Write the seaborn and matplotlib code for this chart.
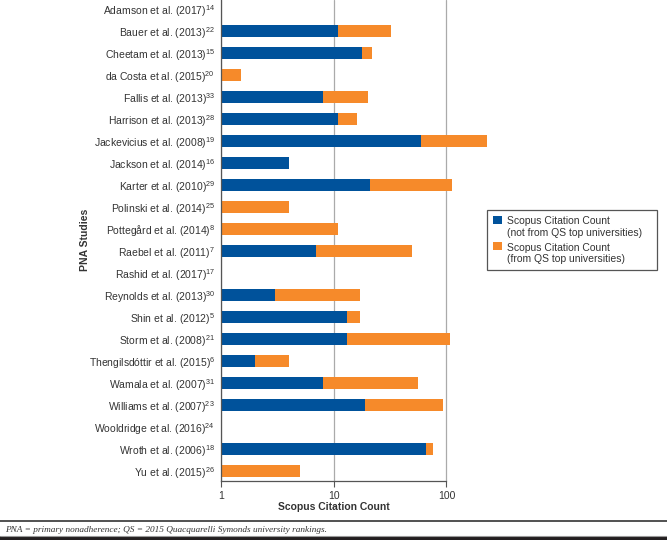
import matplotlib.pyplot as plt
import seaborn as sns
import pandas as pd
from matplotlib.lines import Line2D
from matplotlib.patches import Patch, Rectangle
from matplotlib.legend_handler import HandlerPatch

# Data
studies = ['Adamson et al. (2017)', 'Bauer et al. (2013)', 'Cheetam et al. (2013)',
           'da Costa et al. (2015)', 'Fallis et al. (2013)', 'Harrison et al. (2013)',
           'Jackevicius et al. (2008)', 'Jackson et al. (2014)', 'Karter et al. (2010)',
           'Polinski et al. (2014)', 'Pottegård et al. (2014)', 'Raebel et al. (2011)',
           'Rashid et al. (2017)', 'Reynolds et al. (2013)', 'Shin et al. (2012)',
           'Storm et al. (2008)', 'Thengilsdóttir et al. (2015)', 'Wamala et al. (2007)',
           'Williams et al. (2007)', 'Wooldridge et al. (2016)', 'Wroth et al. (2006)',
           'Yu et al. (2015)']
refs = ['14', '22', '15', '20', '33', '28', '19', '16', '29', '25', '8', '7',
        '17', '30', '5', '21', '6', '31', '23', '24', '18', '26']
not_qs = [0, 11, 18, 0, 8, 11, 59, 4, 21, 0, 0, 7, 0, 3, 13, 13, 2, 8, 19, 0, 66, 0]
from_qs = [0, 21, 4, 1.5, 12, 5, 170, 0, 92, 4, 11, 43, 0, 14, 4, 95, 2, 48, 74, 0, 10, 5]

blue = '#00529b'
orange = '#f68a2a'
text_col = '#333333'

df = pd.DataFrame({'study': studies, 'not_qs': not_qs, 'from_qs': from_qs})
df['total'] = df['not_qs'] + df['from_qs']

sns.set_style('white')
plt.rcParams['font.family'] = ['Liberation Sans', 'DejaVu Sans']
plt.rcParams['mathtext.fontset'] = 'custom'
plt.rcParams['mathtext.rm'] = 'Liberation Sans'
plt.rcParams['mathtext.default'] = 'regular'

fig = plt.figure(figsize=(6.67, 5.4), dpi=100)
ax = fig.add_axes([221 / 667, 1 - 481 / 540, 270 / 667, 481 / 540])

sns.barplot(data=df, x='total', y='study', color=orange, orient='h', width=0.53,
            saturation=1, ax=ax)
sns.barplot(data=df, x='not_qs', y='study', color=blue, orient='h', width=0.53,
            saturation=1, ax=ax)
ax.set_xscale('log')
ax.set_xlim(1, 10 ** (270 / 112.7))
ax.set_ylim(21.45, -0.41)
for p in ax.patches:
    p.set_linewidth(0)

ax.set_xticks([1, 10, 100])
ax.set_xticklabels(['1', '10', '100'])
ax.xaxis.set_minor_locator(plt.NullLocator())
ax.set_yticks(range(len(studies)))
ax.set_yticklabels([f'{s}$^{{{r}}}$' for s, r in zip(studies, refs)])
ax.tick_params(axis='x', length=4, width=0.8, color='#555555', labelsize=7.5,
               labelcolor=text_col, pad=3, bottom=True)
ax.tick_params(axis='y', length=0, labelsize=7.5, labelcolor=text_col, pad=4.3)

ax.grid(axis='x', color='#aaaaaa', linewidth=0.9)
ax.grid(axis='y', visible=False)
ax.set_axisbelow(True)
for side in ['top', 'right']:
    ax.spines[side].set_visible(False)
ax.spines['bottom'].set_bounds(1, 100)
for side in ['left', 'bottom']:
    ax.spines[side].set_color('#555555')
    ax.spines[side].set_linewidth(0.9)

ax.set_xlabel('Scopus Citation Count', fontsize=7.5, fontweight='bold', color=text_col)
ax.xaxis.set_label_coords((333.5 - 221) / 270, -(502 - 481) / 481)
ax.set_ylabel('PNA Studies', fontsize=7.5, fontweight='bold', color=text_col)
ax.yaxis.set_label_coords((85 - 221) / 270, (481 - 240) / 481)
ax.yaxis.label.set_verticalalignment('center')


# legend squares sit next to the first line of each two-line label
def top_square(legend, orig_handle, xdescent, ydescent, width, height, fontsize):
    return Rectangle((-xdescent, -ydescent + 0.75 * fontsize), width, height)


handles = [Patch(facecolor=blue, edgecolor='none'), Patch(facecolor=orange, edgecolor='none')]
labels = ['Scopus Citation Count\n(not from QS top universities)   ',
          'Scopus Citation Count\n(from QS top universities)']
leg = ax.legend(handles, labels, loc='upper left', bbox_to_anchor=(487 / 667, 1 - 210 / 540),
                bbox_transform=fig.transFigure, borderaxespad=0, fontsize=7.5, frameon=True,
                fancybox=False, edgecolor='#555555', framealpha=1, handlelength=0.8,
                handleheight=0.8, handletextpad=0.5, labelspacing=0.45, borderpad=0.6,
                labelcolor=text_col, handler_map={Patch: HandlerPatch(patch_func=top_square)})
leg.get_frame().set_linewidth(0.9)

# Footnote with rules
fig.add_artist(Line2D([0, 1], [1 - 521 / 540] * 2, color='#333333', linewidth=1.2))
fig.text(5 / 667, 1 - 530 / 540,
         'PNA = primary nonadherence; QS = 2015 Quacquarelli Symonds university rankings.',
         fontsize=6.7, style='italic', family='Liberation Serif', color=text_col, va='center')
fig.add_artist(Rectangle((0, 0), 1, 4 / 540, transform=fig.transFigure,
                         facecolor='#231f20', edgecolor='none'))
fig.add_artist(Line2D([0, 1], [4.5 / 540] * 2, color='#999999', linewidth=0.8))

fig.savefig('out.png', dpi=100)
